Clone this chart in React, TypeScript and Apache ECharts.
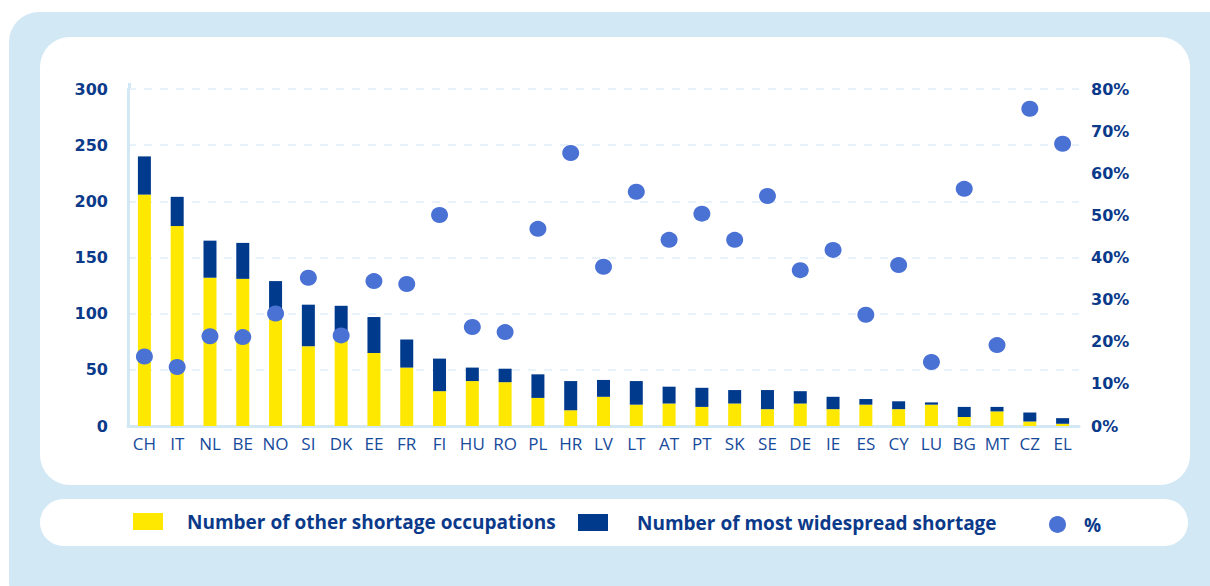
import React, { useEffect, useRef } from "react";
import * as echarts from "echarts";

const countries = ["CH","IT","NL","BE","NO","SI","DK","EE","FR","FI","HU","RO","PL","HR","LV","LT","AT","PT","SK","SE","DE","IE","ES","CY","LU","BG","MT","CZ","EL"];
const otherShortage = [206,178,132,131,95,71,80,65,52,31,40,39,25,14,26,19,20,17,20,15,20,15,19,15,19,8,13,4,2];
const widespreadShortage = [34,26,33,32,34,37,27,32,25,29,12,12,21,26,15,21,15,17,12,17,11,11,5,7,2,9,4,8,5];
const percentShare = [16.5,14,21.3,21.1,26.7,35.2,21.5,34.4,33.7,50.1,23.5,22.3,46.8,64.8,37.8,55.6,44.2,50.4,44.2,54.6,37,41.8,26.4,38.2,15.2,56.3,19.2,75.3,67];
const leftTicks = { min: 0, max: 300, interval: 50 };
const rightTicks = { min: 0, max: 80, interval: 10 };

const NAVY_TEXT = "#0b3a8a";
const YELLOW = "#ffe800";
const NAVY = "#003a8c";
const DOT = "#4a71d4";
const LIGHT = "#d2e8f5";

export default function App() {
  const ref = useRef<HTMLDivElement>(null);
  useEffect(() => {
    if (!ref.current) return;
    const chart = echarts.init(ref.current, undefined, { renderer: "svg" });
    const legendText = { color: NAVY_TEXT, fontWeight: "bold", fontSize: 19, fontFamily: "Open Sans" };
    chart.setOption({
      animation: false,
      backgroundColor: "#ffffff",
      graphic: [
        { type: "rect", z: -10, shape: { x: 9, y: 12, width: 1230, height: 600, r: 30 }, style: { fill: LIGHT } },
        { type: "rect", z: -9, shape: { x: 40, y: 37, width: 1150, height: 448, r: 30 }, style: { fill: "#ffffff" } },
        { type: "rect", z: -9, shape: { x: 40, y: 499, width: 1148, height: 47, r: 23.5 }, style: { fill: "#ffffff" } },
        { type: "line", z: -1, shape: { x1: 129.5, y1: 83, x2: 129.5, y2: 90 }, style: { stroke: LIGHT, lineWidth: 3 } },
      ],
      grid: { left: 128, right: 131, top: 89, bottom: 160, containLabel: false },
      legend: [
        {
          data: [{ name: "Number of other shortage occupations", icon: "rect" }], left: 133, top: 512, padding: 0,
          itemWidth: 30, itemHeight: 17, textStyle: { ...legendText, padding: [0, 0, 0, 19] }, selectedMode: false,
        },
        {
          data: [{ name: "Number of most widespread shortage", icon: "rect" }], left: 578, top: 513, padding: 0,
          itemWidth: 30, itemHeight: 17, textStyle: { ...legendText, padding: [0, 0, 0, 24] }, selectedMode: false,
        },
        {
          data: [{ name: "%", icon: "circle" }], left: 1049, top: 515, padding: 0, itemWidth: 17, itemHeight: 17,
          textStyle: { ...legendText, padding: [0, 0, 0, 13] }, selectedMode: false,
        },
      ],
      xAxis: {
        type: "category",
        data: countries,
        axisLine: { show: true, lineStyle: { color: LIGHT, width: 3 } },
        axisTick: { show: false },
        axisLabel: { color: "#164a9a", fontSize: 17, fontFamily: "Open Sans", margin: 9, interval: 0 },
      },
      yAxis: [
        {
          type: "value", min: leftTicks.min, max: leftTicks.max, interval: leftTicks.interval,
          axisLine: { show: true, lineStyle: { color: LIGHT, width: 3 } },
          axisTick: { show: false },
          axisLabel: { color: NAVY_TEXT, fontWeight: "bold", fontSize: 16, fontFamily: "DejaVu Sans", margin: 20 },
          splitLine: { show: true, lineStyle: { color: "#e8f2fa", width: 2, type: [8, 8] } },
        },
        {
          type: "value", min: rightTicks.min, max: rightTicks.max, interval: rightTicks.interval,
          axisLine: { show: false }, axisTick: { show: false },
          axisLabel: { color: NAVY_TEXT, fontWeight: "bold", fontSize: 16, fontFamily: "DejaVu Sans", margin: 12, formatter: "{value}%" },
          splitLine: { show: false },
        },
      ],
      series: [
        {
          name: "Number of other shortage occupations", type: "bar", stack: "total", data: otherShortage,
          barWidth: 13, itemStyle: { color: YELLOW },
        },
        {
          name: "Number of most widespread shortage", type: "bar", stack: "total", data: widespreadShortage,
          barWidth: 13, itemStyle: { color: NAVY },
        },
        {
          name: "%", type: "scatter", yAxisIndex: 1, data: percentShare, symbol: "circle", symbolSize: [17, 16],
          itemStyle: { color: DOT, opacity: 1 }, z: 5,
        },
      ],
    });
    return () => chart.dispose();
  }, []);
  return <div ref={ref} style={{ position: "fixed", left: 0, top: 0, width: 1210, height: 586 }} />;
}
